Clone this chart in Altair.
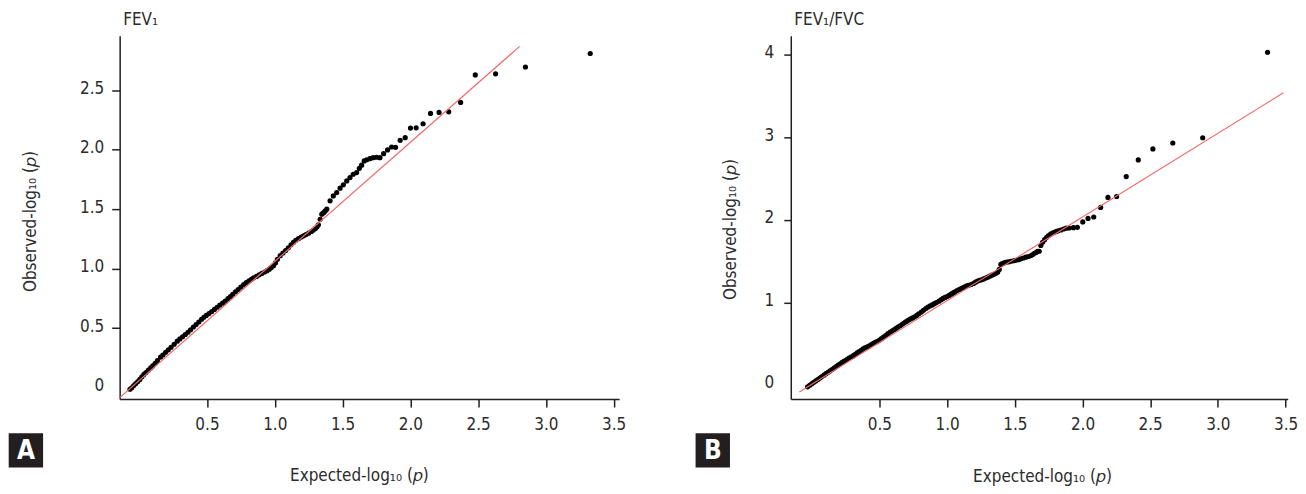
import altair as alt
import pandas as pd

FONT = "Liberation Sans Narrow, DejaVu Sans Condensed, Roboto, sans-serif"
INK = "#231f20"
TXT = "#2b2b2b"
RED = "#f26b6b"

# ---------------- Panel A : FEV1 ----------------
a_expected = [-0.068, -0.055, -0.04, -0.025, -0.01, 0.005, 0.02, 0.035, 0.05, 0.068,
              0.085, 0.1, 0.118, 0.135, 0.158, 0.175, 0.195, 0.215, 0.235, 0.258,
              0.281, 0.3, 0.32, 0.34, 0.36, 0.379, 0.4, 0.42, 0.44, 0.46,
              0.477, 0.495, 0.515, 0.535, 0.555, 0.575, 0.595, 0.615, 0.635, 0.655,
              0.673, 0.69, 0.71, 0.73, 0.75, 0.771, 0.79, 0.81, 0.828, 0.844,
              0.865, 0.885, 0.905, 0.925, 0.943, 0.96, 0.975, 0.991, 1.005, 1.02,
              1.04, 1.06, 1.08, 1.1, 1.12, 1.138, 1.155, 1.175, 1.195, 1.212,
              1.23, 1.25, 1.27, 1.285, 1.3, 1.312, 1.322, 1.335, 1.347, 1.36,
              1.372, 1.384, 1.408, 1.432, 1.457, 1.482, 1.506, 1.531, 1.555, 1.579,
              1.604, 1.624, 1.641, 1.66, 1.678, 1.702, 1.726, 1.751, 1.776, 1.803,
              1.832, 1.862, 1.891, 1.925, 1.962, 2.001, 2.043, 2.094, 2.149, 2.212,
              2.283, 2.371, 2.479, 2.629, 2.849, 3.327]
a_observed = [-0.013, 0.0, 0.018, 0.035, 0.052, 0.07, 0.092, 0.112, 0.128, 0.148,
              0.166, 0.183, 0.205, 0.228, 0.257, 0.275, 0.297, 0.318, 0.34, 0.365,
              0.391, 0.41, 0.428, 0.447, 0.466, 0.487, 0.51, 0.53, 0.552, 0.575,
              0.592, 0.607, 0.623, 0.64, 0.658, 0.676, 0.694, 0.71, 0.728, 0.748,
              0.765, 0.785, 0.806, 0.825, 0.845, 0.866, 0.882, 0.897, 0.91, 0.922,
              0.935, 0.948, 0.96, 0.972, 0.983, 0.995, 1.01, 1.025, 1.048, 1.078,
              1.109, 1.13, 1.152, 1.175, 1.2, 1.22, 1.238, 1.252, 1.265, 1.276,
              1.286, 1.298, 1.312, 1.324, 1.338, 1.352, 1.368, 1.415, 1.458, 1.47,
              1.485, 1.5, 1.57, 1.611, 1.639, 1.676, 1.704, 1.737, 1.765, 1.793,
              1.807, 1.843, 1.869, 1.905, 1.915, 1.924, 1.932, 1.936, 1.932, 1.966,
              1.997, 2.022, 2.019, 2.078, 2.1, 2.181, 2.183, 2.217, 2.304, 2.312,
              2.317, 2.396, 2.627, 2.636, 2.694, 2.807]
a_ref_x = [-0.156, 2.807]
a_ref_y = [-0.095, 2.867]

# ---------------- Panel B : FEV1/FVC ----------------
b_expected = [-0.031, -0.015, 0.0, 0.015, 0.03, 0.045, 0.06, 0.072, 0.09, 0.105,
              0.12, 0.135, 0.15, 0.165, 0.18, 0.195, 0.21, 0.225, 0.24, 0.258,
              0.275, 0.29, 0.305, 0.318, 0.335, 0.35, 0.365, 0.38, 0.395, 0.41,
              0.425, 0.44, 0.455, 0.47, 0.485, 0.5, 0.515, 0.53, 0.548, 0.563,
              0.58, 0.595, 0.61, 0.625, 0.64, 0.655, 0.67, 0.686, 0.7, 0.715,
              0.73, 0.745, 0.76, 0.775, 0.79, 0.809, 0.825, 0.842, 0.858, 0.875,
              0.89, 0.905, 0.92, 0.94, 0.956, 0.97, 0.985, 1.0, 1.015, 1.03,
              1.042, 1.054, 1.07, 1.085, 1.1, 1.115, 1.13, 1.145, 1.16, 1.177,
              1.195, 1.21, 1.225, 1.24, 1.255, 1.27, 1.285, 1.3, 1.315, 1.33,
              1.345, 1.36, 1.373, 1.385, 1.397, 1.41, 1.425, 1.44, 1.456, 1.471,
              1.49, 1.508, 1.527, 1.545, 1.563, 1.582, 1.6, 1.619, 1.632, 1.645,
              1.657, 1.668, 1.68, 1.692, 1.705, 1.72, 1.735, 1.75, 1.766, 1.785,
              1.803, 1.82, 1.84, 1.86, 1.88, 1.901, 1.933, 1.962, 2.002, 2.041,
              2.083, 2.134, 2.188, 2.252, 2.323, 2.412, 2.52, 2.667, 2.888, 3.367]
b_observed = [-0.023, -0.004, 0.014, 0.031, 0.048, 0.066, 0.083, 0.098, 0.118, 0.136,
              0.153, 0.17, 0.187, 0.204, 0.222, 0.239, 0.256, 0.273, 0.29, 0.308,
              0.326, 0.338, 0.352, 0.368, 0.388, 0.405, 0.42, 0.437, 0.452, 0.46,
              0.474, 0.489, 0.503, 0.515, 0.528, 0.543, 0.56, 0.58, 0.601, 0.622,
              0.64, 0.656, 0.672, 0.688, 0.705, 0.72, 0.737, 0.755, 0.77, 0.786,
              0.8, 0.812, 0.826, 0.842, 0.862, 0.883, 0.905, 0.925, 0.943, 0.958,
              0.97, 0.985, 0.998, 1.015, 1.033, 1.048, 1.06, 1.072, 1.085, 1.1,
              1.112, 1.124, 1.14, 1.153, 1.165, 1.178, 1.19, 1.2, 1.208, 1.217,
              1.23, 1.245, 1.258, 1.268, 1.275, 1.285, 1.296, 1.306, 1.318, 1.33,
              1.34, 1.352, 1.366, 1.4, 1.46, 1.475, 1.482, 1.49, 1.492, 1.499,
              1.505, 1.51, 1.518, 1.528, 1.538, 1.548, 1.556, 1.568, 1.58, 1.595,
              1.605, 1.62, 1.62, 1.69, 1.729, 1.76, 1.79, 1.81, 1.83, 1.845,
              1.857, 1.868, 1.878, 1.89, 1.9, 1.902, 1.906, 1.91, 1.975, 2.018,
              2.035, 2.151, 2.272, 2.284, 2.525, 2.727, 2.86, 2.932, 2.996, 4.031]
b_ref_x = [-0.092, 3.484]
b_ref_y = [-0.087, 3.54]

x_ticks = [0.5, 1.0, 1.5, 2.0, 2.5, 3.0, 3.5]
a_y_ticks = [0, 0.5, 1.0, 1.5, 2.0, 2.5]
b_y_ticks = [0, 1, 2, 3, 4]

X_TITLE = "Expected-log\u2081\u2080 (\U0001D45D)"
Y_TITLE = "Observed-log\u2081\u2080 (\U0001D45D)"

H = 364.5
FS = 17


def panel(xs, ys, rx, ry, xdom, ydom, w, yticks, ylabexpr, ypad, ytick,
          title, letter, box_x0, ytx, yty, xtx, xty, top_frame):
    pts = pd.DataFrame({"x": xs, "y": ys})
    ref = pd.DataFrame({"x": rx, "y": ry})
    xsc = alt.Scale(domain=xdom, nice=False, zero=False)
    ysc = alt.Scale(domain=ydom, nice=False, zero=False)
    xax = alt.Axis(values=x_ticks, format=".1f", title=X_TITLE, tickSize=8,
                   labelPadding=10, labelFlush=False, labelOverlap=False,
                   titleX=xtx, titleY=xty, titleAlign="center",
                   titleBaseline="alphabetic", titleAngle=0)
    yax = alt.Axis(values=yticks, labelExpr=ylabexpr, title=Y_TITLE, tickSize=ytick,
                   labelPadding=ypad, labelFlush=False, labelOverlap=False,
                   labelOffset=-2,
                   tickOpacity={"condition": {"test": "datum.value === 0", "value": 0},
                                "value": 1},
                   titleX=ytx, titleY=yty, titleAlign="center",
                   titleBaseline="middle", titleAngle=270)
    points = alt.Chart(pts).mark_circle(size=27, color="black", opacity=1).encode(
        x=alt.X("x:Q", scale=xsc, axis=xax),
        y=alt.Y("y:Q", scale=ysc, axis=yax),
    )
    line = alt.Chart(ref).mark_line(color=RED, strokeWidth=1.2, clip=True).encode(
        x=alt.X("x:Q", scale=xsc), y=alt.Y("y:Q", scale=ysc)
    )
    one = pd.DataFrame({"t": [title], "l": [letter]})
    ttl = alt.Chart(one).mark_text(align="left", baseline="alphabetic", fontSize=FS,
                                   font=FONT, color=TXT).encode(
        x=alt.value(3.5), y=alt.value(-10.3), text="t:N")
    box = alt.Chart(one).mark_rect(color=INK).encode(
        x=alt.value(box_x0), x2=alt.value(box_x0 + 34.5),
        y=alt.value(H + 34.3), y2=alt.value(H + 68.8))
    let = alt.Chart(one).mark_text(align="center", baseline="middle", fontSize=26,
                                   fontWeight="bold", font=FONT, color="white").encode(
        x=alt.value(box_x0 + 17.25), y=alt.value(H + 52), text="l:N")
    layers = [points, line, ttl, box, let]
    if top_frame:
        frame = alt.Chart(one).mark_rect(color="white").encode(
            x=alt.value(0), x2=alt.value(4), y=alt.value(-26.3), y2=alt.value(-24))
        layers.append(frame)
    return alt.layer(*layers).properties(width=w, height=H)


pa = panel(a_expected, a_observed, a_ref_x, a_ref_y, [-0.144, 3.54], [-0.095, 2.957],
           501, a_y_ticks, "datum.value == 0 ? '0' : format(datum.value, '.1f')", 8, 8,
           "FEV\u2081", "A", -111.3, -89, 186, 240, 82, True)
pb = panel(b_expected, b_observed, b_ref_x, b_ref_y, [-0.155, 3.516], [-0.171, 4.233],
           498.5, b_y_ticks, "format(datum.value, 'd')", 10, 7,
           "FEV\u2081/FVC", "B", -95.5, -60.5, 194, 252, 83, False)

chart = alt.hconcat(pa, pb, spacing=172.2, bounds="flush").properties(
    padding=0
).configure_view(stroke=None).configure_axis(
    grid=False, domainColor=INK, domainWidth=1.5, tickColor=INK, tickWidth=1.5,
    labelFont=FONT, labelFontSize=FS, labelColor=TXT,
    titleFont=FONT, titleFontSize=FS, titleFontWeight="normal", titleColor=TXT,
)

chart.save("out.html", embed_options={"renderer": "svg", "actions": False})
